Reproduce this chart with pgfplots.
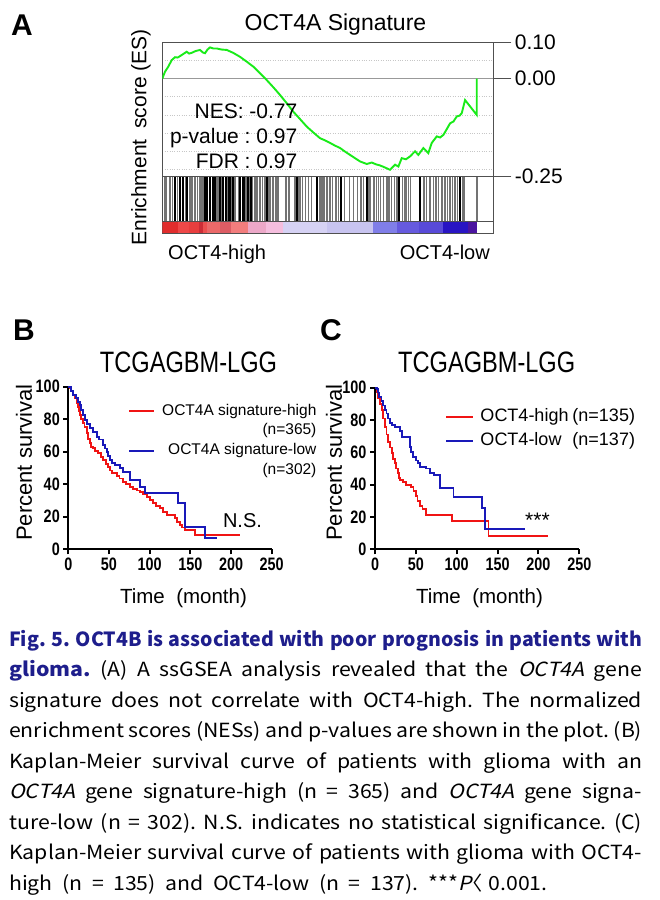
\documentclass[border=0pt]{standalone}
\usepackage{fontspec}
\setmainfont{Liberation Sans}
\newfontfamily\capfont{Noto Sans CJK KR}[AutoFakeSlant=0.2, WordSpace={2,1.5,5}]
\usepackage{graphicx}
\usepackage{pgfplots}
\pgfplotsset{compat=1.18}

\definecolor{esgreen}{RGB}{25,235,25}
\definecolor{kmred}{RGB}{240,20,20}
\definecolor{kmblue}{RGB}{25,25,185}
\definecolor{capblue}{RGB}{30,30,140}
\definecolor{frame}{RGB}{80,80,80}

\newcommand{\fs}[1]{\fontsize{#1}{#1}\selectfont}
\newcommand{\sq}[1]{\scalebox{0.8}[1]{#1}}
\newcommand{\capline}[1]{\scalebox{1.09}[1]{\makebox[580.7pt][s]{#1}}}

\pgfplotsset{
  kmaxis/.style={scale only axis, anchor=north west,
    xmin=0, xmax=250, ymin=0, ymax=100,
    axis x line*=bottom, axis y line*=left,
    axis line style={-, line width=2pt, black},
    xtick={0,50,...,250}, ytick={0,20,...,100},
    tick align=outside, major tick length=5pt,
    tick style={line width=2pt, black},
    tick label style={font=\bfseries\fs{18}},
    xticklabel={\sq{\pgfmathprintnumber[assume math mode=true]{\tick}}},
    yticklabel={\sq{\pgfmathprintnumber[assume math mode=true]{\tick}}},
    clip=false},
  cbar/.style={ybar interval, draw=none}
}

\begin{document}
\frenchspacing
\begin{tikzpicture}[x=1pt,y=1pt]
\useasboundingbox[fill=white] (0,0) rectangle (660,-900);

% ================= Panel A =================
\node[anchor=base west, inner sep=0, font=\bfseries\fs{30}] at (11,-35) {A};
\node[anchor=base, inner sep=0, font=\fs{23}] at (335.5,-30) {OCT4A Signature};
\node[rotate=90, inner sep=0, font=\fs{21}] at (141,-137.5) {Enrichment\hspace{5pt} score (ES)};

\begin{axis}[at={(162.3pt,-42.3pt)}, anchor=north west, scale only axis,
  width=331pt, height=134.4pt,
  xmin=0, xmax=8640, ymin=-0.27, ymax=0.10,
  axis line style={draw=frame, line width=0.9pt},
  xtick=\empty, minor xtick={1000,2000,...,8000},
  ytick={0.10,0,-0.27}, yticklabels={0.10,0.00,-0.25},
  ytick pos=right, yticklabel pos=right,
  minor ytick={0.05,-0.05,-0.10,-0.15,-0.20,-0.25},
  ymajorgrids, xminorgrids, yminorgrids,
  major grid style={black!40, line width=0.9pt},
  minor grid style={black!22, dotted, line width=0.6pt},
  tick align=outside, major tick length=18pt, minor tick length=0pt,
  tick style={frame, line width=0.9pt},
  yticklabel style={font=\fs{21}, anchor=west},
  clip=true]
\addplot[esgreen, line width=1.9pt] coordinates {
(0,0.0) (70,0.019) (157,0.033) (245,0.051) (332,0.059) (400,0.058) (462,0.062)
(550,0.068) (637,0.074) (700,0.069) (767,0.071) (870,0.076) (984,0.079)
(1060,0.072) (1115,0.070) (1180,0.080) (1245,0.086) (1330,0.083) (1420,0.083)
(1550,0.080) (1681,0.079) (1850,0.071) (2029,0.060) (2200,0.047) (2376,0.033)
(2550,0.015) (2726,-0.004) (2900,-0.024) (3073,-0.045) (3250,-0.068)
(3420,-0.091) (3600,-0.112) (3770,-0.132) (3950,-0.149) (4117,-0.164)
(4250,-0.170) (4379,-0.177) (4500,-0.184) (4640,-0.191) (4770,-0.201)
(4901,-0.210) (5030,-0.219) (5162,-0.228) (5337,-0.235) (5467,-0.231)
(5580,-0.236) (5684,-0.239) (5820,-0.245) (5945,-0.251) (6076,-0.237)
(6163,-0.242) (6250,-0.219) (6360,-0.222) (6468,-0.214) (6598,-0.200)
(6684,-0.210) (6815,-0.191) (6945,-0.205) (7034,-0.177) (7164,-0.159)
(7250,-0.162) (7337,-0.155) (7420,-0.140) (7512,-0.123) (7600,-0.118)
(7687,-0.104) (7760,-0.102) (7817,-0.095) (7903,-0.059) (8209,-0.100)
(8209,0.0)};
\end{axis}

\node[anchor=base east, inner sep=0, font=\fs{21}] at (297.5,-118.3) {NES: -0.77};
\node[anchor=base east, inner sep=0, font=\fs{21}] at (297.5,-143.3) {p-value : 0.97};
\node[anchor=base east, inner sep=0, font=\fs{21}] at (297.5,-168.3) {FDR : 0.97};

% hits
\begin{axis}[at={(162.3pt,-176.7pt)}, anchor=north west, scale only axis,
  width=331pt, height=45pt, xmin=0, xmax=8640, ymin=0, ymax=1,
  axis line style={draw=frame, line width=0.9pt}, ticks=none, clip=true]
\addplot[ycomb, black!55, line width=1.5pt, mark=none] coordinates {
(70,1) (100,1) (201,1) (270,1) (400,1) (444,1) (600,1) (637,1) (723,1) (780,1)
(857,1) (920,1) (984,1) (1030,1) (1071,1) (1120,1) (1350,1) (1402,1) (1440,1)
(1480,1) (1550,1) (1710,1) (1800,1) (1854,1) (1900,1) (2000,1) (2047,1)
(2180,1) (2220,1) (2260,1) (2360,1) (2402,1) (2440,1) (2481,1) (2550,1)
(2621,1) (2680,1) (2780,1) (2830,1) (2890,1) (2950,1) (3000,1) (3039,1)
(3230,1) (3308,1) (3460,1) (3560,1) (3595,1) (3665,1) (3733,1) (3820,1)
(3900,1) (4117,1) (4170,1) (4222,1) (4300,1) (4380,1) (4449,1) (4535,1)
(4600,1) (4750,1) (4883,1) (4987,1) (5090,1) (5180,1) (5248,1) (5400,1)
(5441,1) (5528,1) (5590,1) (5641,1) (5700,1) (5771,1) (5860,1) (5920,1)
(5988,1) (6056,1) (6120,1) (6276,1) (6330,1) (6380,1) (6430,1) (6485,1)
(6833,1) (6900,1) (6990,1) (7076,1) (7140,1) (7207,1) (7300,1) (7381,1)
(7450,1) (7512,1) (7580,1) (7642,1) (7700,1) (7830,1) (7878,1) (8209,1)};
\addplot[ycomb, black, line width=1.7pt, mark=none] coordinates {
(332,1) (470,1) (548,1) (650,1) (1115,1) (1175,1) (1245,1) (1316,1) (1380,1)
(1506,1) (1593,1) (1663,1) (1750,1) (1780,1) (1846,1) (2029,1) (2100,1)
(2134,1) (2237,1) (2309,1) (2725,1) (3509,1) (4031,1) (4658,1) (5337,1)
(6187,1) (6728,1) (7773,1)};
\end{axis}

% colour bar
\begin{axis}[at={(162.3pt,-221.7pt)}, anchor=north west, scale only axis,
  width=331pt, height=11.6pt, xmin=0, xmax=8640, ymin=0, ymax=1,
  axis line style={draw=frame, line width=0.9pt}, ticks=none, clip=true]
\addplot[cbar, fill={rgb,255:red,225;green,45;blue,45}] coordinates {(0,1) (400,1)};
\addplot[cbar, fill={rgb,255:red,238;green,72;blue,72}] coordinates {(400,1) (700,1)};
\addplot[cbar, fill={rgb,255:red,232;green,62;blue,62}] coordinates {(700,1) (960,1)};
\addplot[cbar, fill={rgb,255:red,205;green,45;blue,55}] coordinates {(960,1) (1060,1)};
\addplot[cbar, fill={rgb,255:red,236;green,80;blue,80}] coordinates {(1060,1) (1160,1)};
\addplot[cbar, fill={rgb,255:red,235;green,105;blue,105}] coordinates {(1160,1) (1500,1)};
\addplot[cbar, fill={rgb,255:red,220;green,92;blue,100}] coordinates {(1500,1) (1800,1)};
\addplot[cbar, fill={rgb,255:red,242;green,125;blue,125}] coordinates {(1800,1) (2245,1)};
\addplot[cbar, fill={rgb,255:red,236;green,168;blue,200}] coordinates {(2245,1) (2700,1)};
\addplot[cbar, fill={rgb,255:red,245;green,190;blue,222}] coordinates {(2700,1) (3159,1)};
\addplot[cbar, fill={rgb,255:red,214;green,210;blue,244}] coordinates {(3159,1) (4300,1)};
\addplot[cbar, fill={rgb,255:red,200;green,196;blue,240}] coordinates {(4300,1) (5509,1)};
\addplot[cbar, fill={rgb,255:red,128;green,126;blue,232}] coordinates {(5509,1) (6120,1)};
\addplot[cbar, fill={rgb,255:red,102;green,90;blue,222}] coordinates {(6120,1) (6700,1)};
\addplot[cbar, fill={rgb,255:red,88;green,74;blue,216}] coordinates {(6700,1) (7337,1)};
\addplot[cbar, fill={rgb,255:red,40;green,20;blue,195}] coordinates {(7337,1) (7990,1)};
\addplot[cbar, fill={rgb,255:red,75;green,20;blue,160}] coordinates {(7990,1) (8209,1)};
\end{axis}

\node[anchor=base west, inner sep=0, font=\fs{20}] at (168,-259.5) {OCT4-high};
\node[anchor=base east, inner sep=0, font=\fs{20}] at (490,-259.5) {OCT4-low};

% ================= Panel B =================
\node[anchor=base west, inner sep=0, font=\bfseries\fs{30}] at (13,-340) {B};
\node[anchor=base, inner sep=0] at (188.5,-372) {\fs{29.5}\sq{TCGAGBM-LGG}};
\node[rotate=90, inner sep=0, font=\fs{22}] at (24,-462.5) {Percent survival};
\node[anchor=base, inner sep=0, font=\fs{20.5}] at (183.5,-603) {Time~~(month)};

\begin{axis}[kmaxis, at={(68.3pt,-386.7pt)}, width=203.4pt, height=162.6pt,
  legend cell align=right,
  legend image code/.code={\draw[#1, line width=2pt] (0pt,0pt) -- (25pt,0pt);},
  legend style={at={(0.2935,0.90)}, anchor=north west, draw=none, fill=none,
    inner sep=0pt, font=\fs{15.5}, column sep=7pt, row sep=3.7pt,
    nodes={inner sep=0pt, text height=12pt, text depth=4pt}}]
\addplot[const plot, kmred, line width=1.8pt] coordinates {
(0,100) (2,99) (4,97) (6,95) (8,92.8) (10,90) (12,87.7) (13,85) (14.4,82.6)
(16,80) (18.4,77.5) (20,75) (22.6,71.3) (24,68) (26.7,65.2) (28,63)
(30.7,62.1) (33,60.5) (36.9,59) (40,57) (43,54.9) (46,52.5) (49.2,50.8)
(51,48.5) (53.3,46.7) (59.5,45.3) (63,43.5) (67.6,41.6) (71,40) (75.8,38.5)
(80,37) (84,36.2) (88.1,35.4) (92,33.8) (96.4,32.3) (100,30.5) (104.5,28.3)
(108,26.8) (112.7,25.2) (116,23) (120.9,21.1) (131.1,19.1) (134,17)
(137.3,14.9) (140,13.4) (143.4,11.9) (155.7,8.8) (211,8.8)};
\addlegendentry{OCT4A signature-high}
\addlegendimage{empty legend}
\addlegendentry{(n=365)}
\addplot[const plot, kmblue, line width=1.8pt] coordinates {
(0,100) (3,97.5) (6.1,94.9) (9,93) (12,90.5) (14.4,88.7) (16,85.5) (18,82.5)
(20.5,79.5) (23,77) (26.7,74.4) (30,72) (34.9,69.2) (38,67.5) (43,64.1)
(45,62) (47.2,60) (49,57.5) (51.3,54.9) (54,53) (57.4,51.8) (63.5,49.8)
(67.6,47.4) (75.8,42.6) (88.1,38.5) (94.3,34.8) (135.2,28.7) (143.4,13.9)
(168,7.1) (182.4,7.1)};
\addlegendentry{OCT4A signature-low\hspace{8pt}}
\addlegendimage{empty legend}
\addlegendentry{(n=302)\hspace{8pt}}
\end{axis}
\node[anchor=base, inner sep=0, font=\fs{20}] at (242.5,-527) {N.S.};

% ================= Panel C =================
\node[anchor=base west, inner sep=0, font=\bfseries\fs{30}] at (320,-340) {C};
\node[anchor=base, inner sep=0] at (486.7,-372) {\fs{29.5}\sq{TCGAGBM-LGG}};
\node[rotate=90, inner sep=0, font=\fs{22}] at (334,-462.5) {Percent survival};
\node[anchor=base, inner sep=0, font=\fs{20.5}] at (479.5,-603) {Time~~(month)};

\begin{axis}[kmaxis, at={(375pt,-387.7pt)}, width=204.3pt, height=161.6pt,
  legend cell align=left,
  legend image code/.code={\draw[#1, line width=2pt] (0pt,0pt) -- (27pt,0pt);},
  legend style={at={(0.3426,0.873)}, anchor=north west, draw=none, fill=none,
    inner sep=0pt, font=\fs{18}, column sep=6.3pt, row sep=5.3pt,
    nodes={inner sep=0pt, text height=13.5pt, text depth=4.5pt}}]
\addplot[const plot, kmred, line width=1.8pt] coordinates {
(0,100) (2,97) (4.1,93.4) (6,90) (8.2,86.2) (10,81) (12.2,75.9) (14,71)
(16.3,66.6) (18,63) (20.4,59.4) (22,56) (24.5,53.2) (26,50) (28.5,47)
(29.5,44) (30.6,42.9) (34,41.5) (38,39.8) (44,38.5) (47,36) (50,33) (52,30)
(55,27) (58,25) (62,21.2) (94,17.5) (139,8.3) (212,8.3)};
\addlegendentry{\makebox[92pt][l]{OCT4-high}(n=135)}
\addplot[const plot, kmblue, line width=1.8pt] coordinates {
(0,100) (2,99) (4,97) (5,94.4) (8,92) (10,89) (12.2,86.2) (14,84) (16,81)
(18.4,78) (21,77) (24.5,75.9) (30.6,73) (32.6,69.7) (42.8,63.5) (44.5,60)
(46.9,57.3) (50,55) (53,53.2) (55,51.1) (62,50) (67.3,47) (72,46) (79.6,37.7)
(96,32.6) (130.6,25.4) (134.7,12.4) (183.6,12.4)};
\addlegendentry{\makebox[92pt][l]{OCT4-low}(n=137)}
\end{axis}
\node[anchor=base, inner sep=0, font=\fs{21}] at (537.5,-527) {***};

% ================= Caption =================
\begin{scope}[every node/.style={anchor=base west, inner sep=0}]
\node at (9,-646) {\capfont\fs{19.5}\makebox[633pt][s]{\bfseries\color{capblue}Fig. 5. OCT4B is associated with poor prognosis in patients with}};
\node at (9,-676.5) {\capfont\fs{19.5}\capline{{\bfseries\color{capblue}glioma.} (A) A ssGSEA analysis revealed that the \textit{OCT4A} gene}};
\node at (9,-707) {\capfont\fs{19.5}\capline{signature does not correlate with OCT4-high. The normalized}};
\node at (9,-737.5) {\capfont\fs{19.5}\capline{enrichment scores (NESs) and p-values are shown in the plot. (B)}};
\node at (9,-768) {\capfont\fs{19.5}\capline{Kaplan-Meier survival curve of patients with glioma with an}};
\node at (9,-798.5) {\capfont\fs{19.5}\capline{\textit{OCT4A} gene signature-high (n = 365) and \textit{OCT4A} gene signa-}};
\node at (9,-829) {\capfont\fs{19.5}\capline{ture-low (n = 302). N.S. indicates no statistical significance. (C)}};
\node at (9,-859.5) {\capfont\fs{19.5}\capline{Kaplan-Meier survival curve of patients with glioma with OCT4-}};
\node at (9,-890) {\capfont\fs{19.5}\scalebox{1.09}[1]{high (n = 135) and OCT4-low (n = 137). ***\textit{P}\kern-0.45em〈\kern0.25em0.001.}};
\end{scope}
\end{tikzpicture}
\end{document}
